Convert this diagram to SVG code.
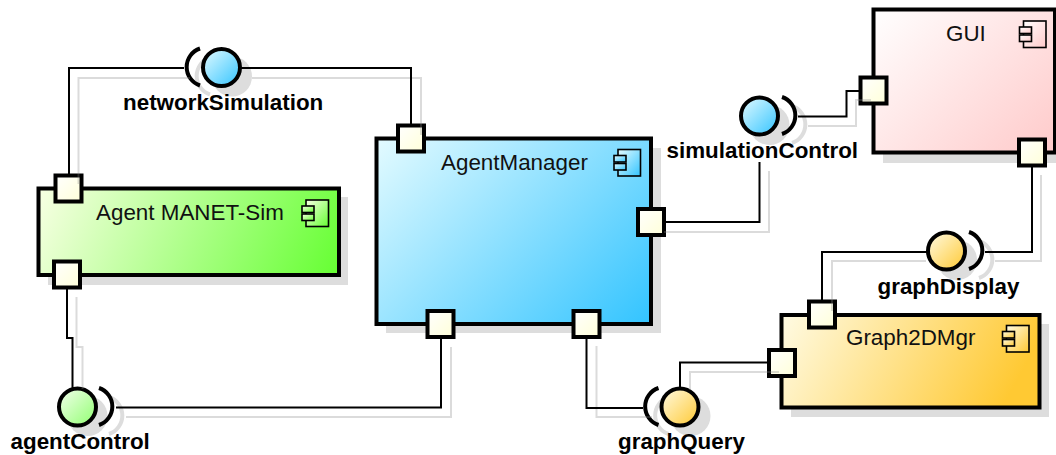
<svg xmlns="http://www.w3.org/2000/svg" width="1056" height="455" viewBox="0 0 1056 455">
<style>
text{font-family:"Liberation Sans",Arial,sans-serif;fill:#111}
.name{font-size:22.4px}
.lab{font-size:22.4px;font-weight:bold;fill:#000}
.box{stroke:#000;stroke-width:4}
.sh{fill:#ddd;stroke:none}
.port{fill:url(#gp);stroke:#000;stroke-width:4}
.ic{stroke:#000;stroke-width:1.6}
.ci{stroke:#000;stroke-width:4}
.arc{fill:none;stroke:#000;stroke-width:4}
.arcs{fill:none;stroke:#ddd;stroke-width:4}
.wire{fill:none;stroke:#000;stroke-width:2}
.wsh{fill:none;stroke:#888;stroke-opacity:.3;stroke-width:2}
</style>
<defs>
<linearGradient id="gp" x1="0" y1="0" x2="1" y2="1"><stop offset="0" stop-color="#fff"/><stop offset="1" stop-color="#ffffd8"/></linearGradient>
<linearGradient id="ga" gradientUnits="userSpaceOnUse" x1="38" y1="188" x2="317" y2="319"><stop offset="0" stop-color="#f8ffe4"/><stop offset="1" stop-color="#66ff33"/></linearGradient>
<linearGradient id="gm" gradientUnits="userSpaceOnUse" x1="376" y1="138" x2="606" y2="368"><stop offset="0" stop-color="#e4fbff"/><stop offset="1" stop-color="#33c4ff"/></linearGradient>
<linearGradient id="gg" gradientUnits="userSpaceOnUse" x1="873" y1="9" x2="1036" y2="172"><stop offset="0" stop-color="#fff"/><stop offset="1" stop-color="#ffcaca"/></linearGradient>
<linearGradient id="gd" gradientUnits="userSpaceOnUse" x1="781" y1="315" x2="990" y2="430"><stop offset="0" stop-color="#fffbe4"/><stop offset="1" stop-color="#ffc933"/></linearGradient>
<linearGradient id="ia" x1="0" y1="0" x2="1" y2="1"><stop offset="0" stop-color="#f8ffe4"/><stop offset="1" stop-color="#66ff33"/></linearGradient>
<linearGradient id="im" x1="0" y1="0" x2="1" y2="1"><stop offset="0" stop-color="#e4fbff"/><stop offset="1" stop-color="#33c4ff"/></linearGradient>
<linearGradient id="ig" x1="0" y1="0" x2="1" y2="1"><stop offset="0" stop-color="#fff"/><stop offset="1" stop-color="#ffcaca"/></linearGradient>
<linearGradient id="id" x1="0" y1="0" x2="1" y2="1"><stop offset="0" stop-color="#fffbe4"/><stop offset="1" stop-color="#ffc933"/></linearGradient>
<linearGradient id="cg" x1="0" y1="0" x2="1" y2="1"><stop offset="0" stop-color="#f4ffee"/><stop offset="1" stop-color="#90ff70"/></linearGradient>
<g id="icon"><rect class="ic" x="4.5" y="0" width="22.5" height="26.5"/><rect class="ic" x="0.5" y="6" width="12" height="6.5"/><rect class="ic" x="0.5" y="14" width="12" height="6.5"/></g>
</defs>
<rect width="1056" height="455" fill="#fff"/>

<g id="Agent">
<rect class="sh" x="48" y="197" width="300" height="88"/>
<rect class="box" x="38.500" y="188.500" width="300.500" height="86.500" fill="url(#ga)"/>
<use href="#icon" x="301.500" y="200" fill="url(#ia)"/>
<text class="name" x="96" y="220">Agent MANET-Sim</text>
<rect class="port" x="55.500" y="175.500" width="26" height="26"/>
<rect class="port" x="54" y="261.500" width="26" height="26"/>
</g>

<g id="AgentManager">
<rect class="sh" x="386" y="148" width="275" height="185"/>
<rect class="box" x="376.500" y="138.500" width="274.500" height="185.500" fill="url(#gm)"/>
<use href="#icon" x="613.500" y="149.500" fill="url(#im)"/>
<text class="name" x="441" y="170">AgentManager</text>
<rect class="port" x="398" y="125.500" width="26" height="26"/>
<rect class="port" x="638" y="209" width="26" height="26"/>
<rect class="port" x="427.500" y="311" width="26" height="26"/>
<rect class="port" x="573.500" y="311" width="26" height="26"/>
</g>

<g id="GUI">
<rect class="sh" x="883" y="19" width="173" height="144"/>
<rect class="box" x="873.500" y="9.500" width="181.500" height="143" fill="url(#gg)"/>
<use href="#icon" x="1019" y="21" fill="url(#ig)"/>
<text class="name" x="946" y="41">GUI</text>
<rect class="port" x="860.500" y="77.500" width="26" height="26"/>
<rect class="port" x="1019" y="139.500" width="26" height="26"/>
</g>

<g id="Graph2DMgr">
<rect class="sh" x="791" y="324" width="258" height="93"/>
<rect class="box" x="781.500" y="315" width="258" height="92.500" fill="url(#gd)"/>
<use href="#icon" x="1002" y="325.500" fill="url(#id)"/>
<text class="name" x="846" y="345">Graph2DMgr</text>
<rect class="port" x="809" y="301.500" width="26" height="26"/>
<rect class="port" x="769" y="350" width="26" height="26"/>
</g>

<g id="networkSimulation">
<circle class="sh" cx="232" cy="76.500" r="20"/>
<path class="arcs" d="M210 57.500A19.500 19.500 0 0 0 210 94.500"/>
<path class="arc" d="M200 48.500A19.500 19.500 0 0 0 200 85.500"/>
<circle class="ci" cx="221.500" cy="67.500" r="18.500" fill="url(#im)"/>
<text class="lab" x="123" y="110">networkSimulation</text>
</g>

<g id="agentControl">
<circle class="sh" cx="87.500" cy="416" r="20"/>
<path class="arcs" d="M109 397A19.500 19.500 0 0 1 109 434"/>
<path class="arc" d="M99 388A19.500 19.500 0 0 1 99 425"/>
<circle class="ci" cx="77.500" cy="407" r="18.500" fill="url(#cg)"/>
<text class="lab" x="10.500" y="449">agentControl</text>
</g>

<g id="simulationControl">
<circle class="sh" cx="769.500" cy="125" r="20"/>
<path class="arcs" d="M792 106A19.500 19.500 0 0 1 792 143"/>
<path class="arc" d="M782 97A19.500 19.500 0 0 1 782 134"/>
<circle class="ci" cx="759.500" cy="116" r="18.500" fill="url(#im)"/>
<text class="lab" x="666.500" y="158">simulationControl</text>
</g>

<g id="graphDisplay">
<circle class="sh" cx="957" cy="260" r="20"/>
<path class="arcs" d="M979 241A19.500 19.500 0 0 1 979 278"/>
<path class="arc" d="M969 232A19.500 19.500 0 0 1 969 269"/>
<circle class="ci" cx="946.500" cy="251" r="18.500" fill="url(#id)"/>
<text class="lab" x="877.500" y="294">graphDisplay</text>
</g>

<g id="graphQuery">
<circle class="sh" cx="690.500" cy="416" r="20"/>
<path class="arcs" d="M668.500 397A19.500 19.500 0 0 0 668.500 434"/>
<path class="arc" d="M658.500 388A19.500 19.500 0 0 0 658.500 425"/>
<circle class="ci" cx="680" cy="407" r="18.500" fill="url(#id)"/>
<text class="lab" x="618" y="449">graphQuery</text>
</g>

<g id="connectors">
<path class="wsh" d="M78.500 184V78H190M252 78H421V135"/>
<path class="wsh" d="M76.500 297V347H82.500V389M126 417H451V347"/>
<path class="wsh" d="M596.500 346V417H652M690 390V372H779"/>
<path class="wsh" d="M664 232H769V171M808 126H856V100H871"/>
<path class="wsh" d="M832 311V261H926M995 261H1041V175"/>
<path class="wire" d="M69 175V68H184M240 68H411V125"/>
<path class="wire" d="M67 288V338H72.500V388M116 407.500H441V337"/>
<path class="wire" d="M586.500 337V408H643M680 388V362.500H769"/>
<path class="wire" d="M664 222H759.500V162M798 116.500H846.500V91H860"/>
<path class="wire" d="M822 301V252H928M985 252H1032V166"/>
</g>
</svg>
